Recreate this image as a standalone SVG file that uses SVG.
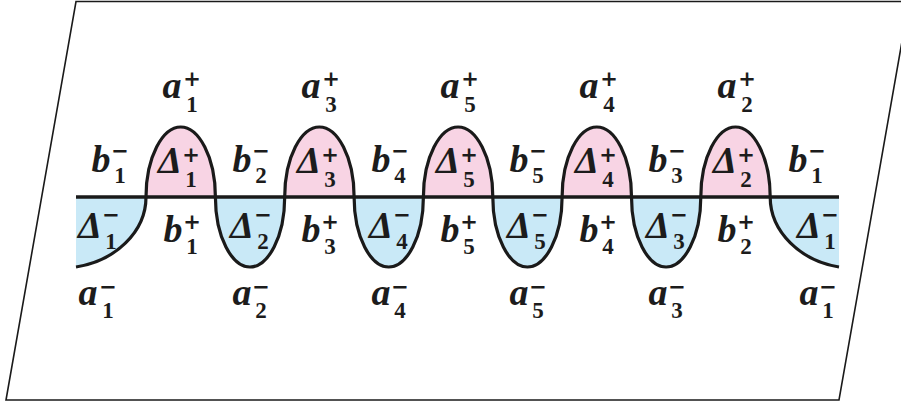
<svg xmlns="http://www.w3.org/2000/svg" width="901" height="405" viewBox="0 0 901 405">
<style>
.frame{fill:#fff;stroke:#1a1a1a;stroke-width:1.6}
.pk{fill:#f8d4e4;stroke:none}
.bl{fill:#c9e9f7;stroke:none}
.wave{fill:none;stroke:#1a1a1a;stroke-width:3.2;stroke-linejoin:round}
.base{stroke:#1a1a1a;stroke-width:3.4}
text{fill:#1c1c1c;font-family:"Liberation Serif","DejaVu Serif",serif;font-weight:bold;text-anchor:middle;font-size:23px}
.m{font-style:italic;font-size:38px}
.g{font-family:"DejaVu Sans","Liberation Sans",sans-serif;font-size:21px}
</style>
<polygon class="frame" points="76,1.5 909,1.5 839,400 6,400"/>
<g id="fills">
<path class="bl" d="M76 197 L146 197 C146 232 115 261 76 267 Z"/>
<path class="pk" d="M146 197 C146 157 162.7 127 180.7 127 C198.7 127 215.4 157 215.4 197 Z"/>
<path class="bl" d="M215.4 197 C215.4 237 232 267 250 267 C268 267 284.7 237 284.7 197 Z"/>
<path class="pk" d="M284.7 197 C284.7 157 301.4 127 319.4 127 C337.4 127 354.1 157 354.1 197 Z"/>
<path class="bl" d="M354.1 197 C354.1 237 370.7 267 388.7 267 C406.7 267 423.4 237 423.4 197 Z"/>
<path class="pk" d="M423.4 197 C423.4 157 440.1 127 458.1 127 C476.1 127 492.8 157 492.8 197 Z"/>
<path class="bl" d="M492.8 197 C492.8 237 509.4 267 527.4 267 C545.4 267 562.1 237 562.1 197 Z"/>
<path class="pk" d="M562.1 197 C562.1 157 578.8 127 596.8 127 C614.8 127 631.5 157 631.5 197 Z"/>
<path class="bl" d="M631.5 197 C631.5 237 648.1 267 666.1 267 C684.1 267 700.8 237 700.8 197 Z"/>
<path class="pk" d="M700.8 197 C700.8 157 717.5 127 735.5 127 C753.5 127 770.2 157 770.2 197 Z"/>
<path class="bl" d="M770.2 197 C770.2 232 801 261 839 267 L839 197 Z"/>
</g>
<g id="connectors">
<line class="base" x1="76" y1="197" x2="839" y2="197"/>
<path class="wave" d="M76 267 C115 261 146 232 146 197 C146 157 162.7 127 180.7 127 C198.7 127 215.4 157 215.4 197 C215.4 237 232 267 250 267 C268 267 284.7 237 284.7 197 C284.7 157 301.4 127 319.4 127 C337.4 127 354.1 157 354.1 197 C354.1 237 370.7 267 388.7 267 C406.7 267 423.4 237 423.4 197 C423.4 157 440.1 127 458.1 127 C476.1 127 492.8 157 492.8 197 C492.8 237 509.4 267 527.4 267 C545.4 267 562.1 237 562.1 197 C562.1 157 578.8 127 596.8 127 C614.8 127 631.5 157 631.5 197 C631.5 237 648.1 267 666.1 267 C684.1 267 700.8 237 700.8 197 C700.8 157 717.5 127 735.5 127 C753.5 127 770.2 157 770.2 197 C770.2 232 801 261 839 267"/>
</g>
<g id="a1p"><text><tspan class="m" x="172" y="98">a</tspan><tspan class="g" x="192" y="85.5">+</tspan><tspan x="192" y="112">1</tspan></text></g>
<g id="a3p"><text><tspan class="m" x="311" y="98">a</tspan><tspan class="g" x="331" y="85.5">+</tspan><tspan x="331" y="112">3</tspan></text></g>
<g id="a5p"><text><tspan class="m" x="450" y="98">a</tspan><tspan class="g" x="470" y="85.5">+</tspan><tspan x="470" y="112">5</tspan></text></g>
<g id="a4p"><text><tspan class="m" x="589" y="98">a</tspan><tspan class="g" x="609" y="85.5">+</tspan><tspan x="609" y="112">4</tspan></text></g>
<g id="a2p"><text><tspan class="m" x="727" y="98">a</tspan><tspan class="g" x="747" y="85.5">+</tspan><tspan x="747" y="112">2</tspan></text></g>
<g id="D1p"><text><tspan class="m" x="170" y="173">Δ</tspan><tspan class="g" x="191" y="161.5">+</tspan><tspan x="191" y="186.5">1</tspan></text></g>
<g id="D3p"><text><tspan class="m" x="309" y="173">Δ</tspan><tspan class="g" x="330" y="161.5">+</tspan><tspan x="330" y="186.5">3</tspan></text></g>
<g id="D5p"><text><tspan class="m" x="448" y="173">Δ</tspan><tspan class="g" x="469" y="161.5">+</tspan><tspan x="469" y="186.5">5</tspan></text></g>
<g id="D4p"><text><tspan class="m" x="587" y="173">Δ</tspan><tspan class="g" x="608" y="161.5">+</tspan><tspan x="608" y="186.5">4</tspan></text></g>
<g id="D2p"><text><tspan class="m" x="725" y="173">Δ</tspan><tspan class="g" x="746" y="161.5">+</tspan><tspan x="746" y="186.5">2</tspan></text></g>
<g id="b1m_l"><text><tspan class="m" x="101" y="172">b</tspan><tspan class="g" x="120" y="157.5">−</tspan><tspan x="120" y="183">1</tspan></text></g>
<g id="b2m"><text><tspan class="m" x="242" y="172">b</tspan><tspan class="g" x="261" y="157.5">−</tspan><tspan x="261" y="183">2</tspan></text></g>
<g id="b4m"><text><tspan class="m" x="381" y="172">b</tspan><tspan class="g" x="400" y="157.5">−</tspan><tspan x="400" y="183">4</tspan></text></g>
<g id="b5m"><text><tspan class="m" x="519" y="172">b</tspan><tspan class="g" x="538" y="157.5">−</tspan><tspan x="538" y="183">5</tspan></text></g>
<g id="b3m"><text><tspan class="m" x="658" y="172">b</tspan><tspan class="g" x="677" y="157.5">−</tspan><tspan x="677" y="183">3</tspan></text></g>
<g id="b1m_r"><text><tspan class="m" x="798" y="172">b</tspan><tspan class="g" x="817" y="157.5">−</tspan><tspan x="817" y="183">1</tspan></text></g>
<g id="b1p"><text><tspan class="m" x="173" y="242">b</tspan><tspan class="g" x="192" y="229">+</tspan><tspan x="192" y="254">1</tspan></text></g>
<g id="b3p"><text><tspan class="m" x="311" y="242">b</tspan><tspan class="g" x="330" y="229">+</tspan><tspan x="330" y="254">3</tspan></text></g>
<g id="b5p"><text><tspan class="m" x="450" y="242">b</tspan><tspan class="g" x="469" y="229">+</tspan><tspan x="469" y="254">5</tspan></text></g>
<g id="b4p"><text><tspan class="m" x="589" y="242">b</tspan><tspan class="g" x="608" y="229">+</tspan><tspan x="608" y="254">4</tspan></text></g>
<g id="b2p"><text><tspan class="m" x="727" y="242">b</tspan><tspan class="g" x="746" y="229">+</tspan><tspan x="746" y="254">2</tspan></text></g>
<g id="D1m_l"><text><tspan class="m" x="90" y="238">Δ</tspan><tspan class="g" x="111" y="221.5">−</tspan><tspan x="111" y="249">1</tspan></text></g>
<g id="D2m"><text><tspan class="m" x="242" y="238">Δ</tspan><tspan class="g" x="263" y="221.5">−</tspan><tspan x="263" y="249">2</tspan></text></g>
<g id="D4m"><text><tspan class="m" x="381" y="238">Δ</tspan><tspan class="g" x="402" y="221.5">−</tspan><tspan x="402" y="249">4</tspan></text></g>
<g id="D5m"><text><tspan class="m" x="519" y="238">Δ</tspan><tspan class="g" x="540" y="221.5">−</tspan><tspan x="540" y="249">5</tspan></text></g>
<g id="D3m"><text><tspan class="m" x="658" y="238">Δ</tspan><tspan class="g" x="679" y="221.5">−</tspan><tspan x="679" y="249">3</tspan></text></g>
<g id="D1m_r"><text><tspan class="m" x="809" y="238">Δ</tspan><tspan class="g" x="830" y="221.5">−</tspan><tspan x="830" y="249">1</tspan></text></g>
<g id="a1m_l"><text><tspan class="m" x="88" y="305">a</tspan><tspan class="g" x="108" y="293.5">−</tspan><tspan x="108" y="318">1</tspan></text></g>
<g id="a2m"><text><tspan class="m" x="242" y="305">a</tspan><tspan class="g" x="261" y="293.5">−</tspan><tspan x="261" y="318">2</tspan></text></g>
<g id="a4m"><text><tspan class="m" x="381" y="305">a</tspan><tspan class="g" x="400" y="293.5">−</tspan><tspan x="400" y="318">4</tspan></text></g>
<g id="a5m"><text><tspan class="m" x="519" y="305">a</tspan><tspan class="g" x="538" y="293.5">−</tspan><tspan x="538" y="318">5</tspan></text></g>
<g id="a3m"><text><tspan class="m" x="658" y="305">a</tspan><tspan class="g" x="677" y="293.5">−</tspan><tspan x="677" y="318">3</tspan></text></g>
<g id="a1m_r"><text><tspan class="m" x="809" y="305">a</tspan><tspan class="g" x="828" y="293.5">−</tspan><tspan x="828" y="318">1</tspan></text></g>
</svg>
